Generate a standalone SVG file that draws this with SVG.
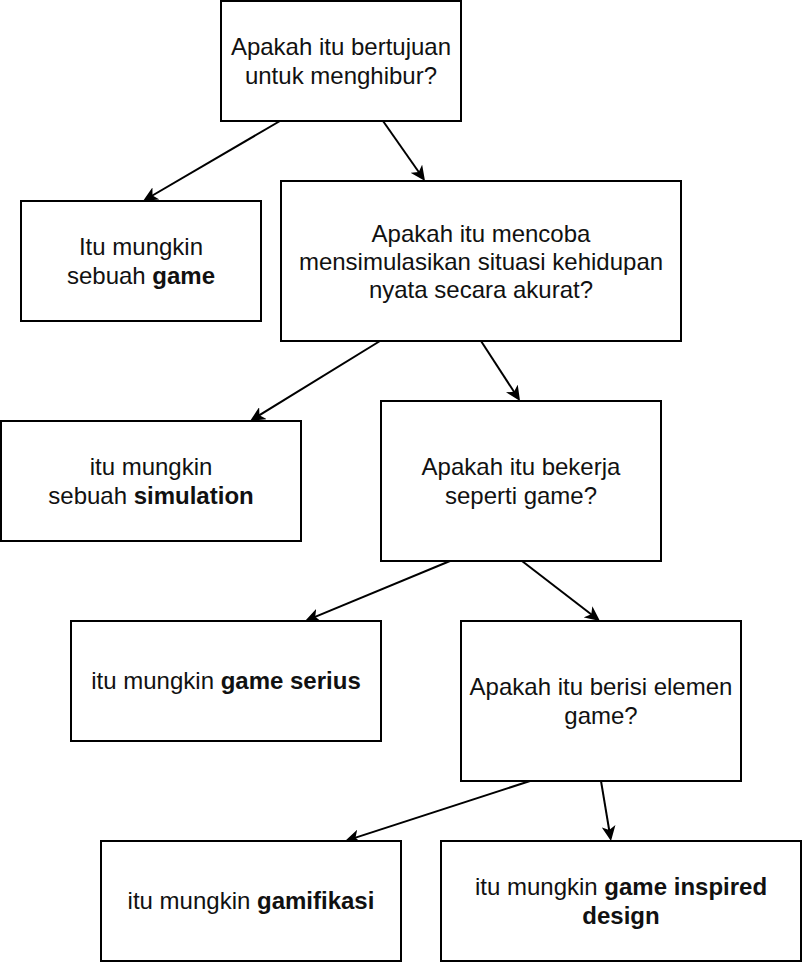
<svg xmlns="http://www.w3.org/2000/svg" width="802" height="962" viewBox="0 0 802 962">
  <style>
    .box { fill: #ffffff; stroke: #000000; stroke-width: 2; }
    .lbl { font-family: "Liberation Sans", Arial, Helvetica, sans-serif; font-size: 24px; fill: #111111; text-anchor: middle; }
    .b { font-weight: bold; }
    .edge { fill: none; stroke: #000000; stroke-width: 2; marker-end: url(#arrow); }
  </style>
  <defs>
    <marker id="arrow" markerUnits="userSpaceOnUse" markerWidth="15" markerHeight="14" viewBox="0 0 15 14" refX="12" refY="7" orient="auto">
      <path d="M0,0 L15,7 L0,14 L4,7 Z" fill="#000000"/>
    </marker>
  </defs>
  <rect width="802" height="962" fill="#ffffff"/>

  <g id="connectors">
    <path class="edge" d="M280,121 L145.6,199.5"/>
    <path class="edge" d="M383,121 L423.3,178.5"/>
    <path class="edge" d="M380,341 L252.6,419.4"/>
    <path class="edge" d="M481,341 L518.4,398.5"/>
    <path class="edge" d="M450,561 L307.8,619.9"/>
    <path class="edge" d="M522,561 L597.6,619.2"/>
    <path class="edge" d="M530,781 L347.9,840.1"/>
    <path class="edge" d="M601,781 L610.5,838"/>
  </g>

  <g id="q1">
    <rect class="box" x="221" y="1" width="240" height="120"/>
    <text class="lbl" x="341" y="55">Apakah itu bertujuan</text>
    <text class="lbl" x="341" y="83.5">untuk menghibur?</text>
  </g>

  <g id="r-game">
    <rect class="box" x="21" y="201" width="240" height="120"/>
    <text class="lbl" x="141" y="255">Itu mungkin</text>
    <text class="lbl" x="141" y="283.5">sebuah <tspan class="b">game</tspan></text>
  </g>

  <g id="q2">
    <rect class="box" x="281" y="181" width="400" height="160"/>
    <text class="lbl" x="481" y="241.5">Apakah itu mencoba</text>
    <text class="lbl" x="481" y="269.5">mensimulasikan situasi kehidupan</text>
    <text class="lbl" x="481" y="297.5">nyata secara akurat?</text>
  </g>

  <g id="r-simulation">
    <rect class="box" x="1" y="421" width="300" height="120"/>
    <text class="lbl" x="151" y="475">itu mungkin</text>
    <text class="lbl" x="151" y="503.5">sebuah <tspan class="b">simulation</tspan></text>
  </g>

  <g id="q3">
    <rect class="box" x="381" y="401" width="280" height="160"/>
    <text class="lbl" x="521" y="475">Apakah itu bekerja</text>
    <text class="lbl" x="521" y="503.5">seperti game?</text>
  </g>

  <g id="r-serius">
    <rect class="box" x="71" y="621" width="310" height="120"/>
    <text class="lbl" x="226" y="689">itu mungkin <tspan class="b">game serius</tspan></text>
  </g>

  <g id="q4">
    <rect class="box" x="461" y="621" width="280" height="160"/>
    <text class="lbl" x="601" y="695">Apakah itu berisi elemen</text>
    <text class="lbl" x="601" y="723.5">game?</text>
  </g>

  <g id="r-gamifikasi">
    <rect class="box" x="101" y="841" width="300" height="120"/>
    <text class="lbl" x="251" y="909">itu mungkin <tspan class="b">gamifikasi</tspan></text>
  </g>

  <g id="r-inspired">
    <rect class="box" x="441" y="841" width="360" height="120"/>
    <text class="lbl" x="621" y="895">itu mungkin <tspan class="b">game inspired</tspan></text>
    <text class="lbl b" x="621" y="923.5">design</text>
  </g>
</svg>
